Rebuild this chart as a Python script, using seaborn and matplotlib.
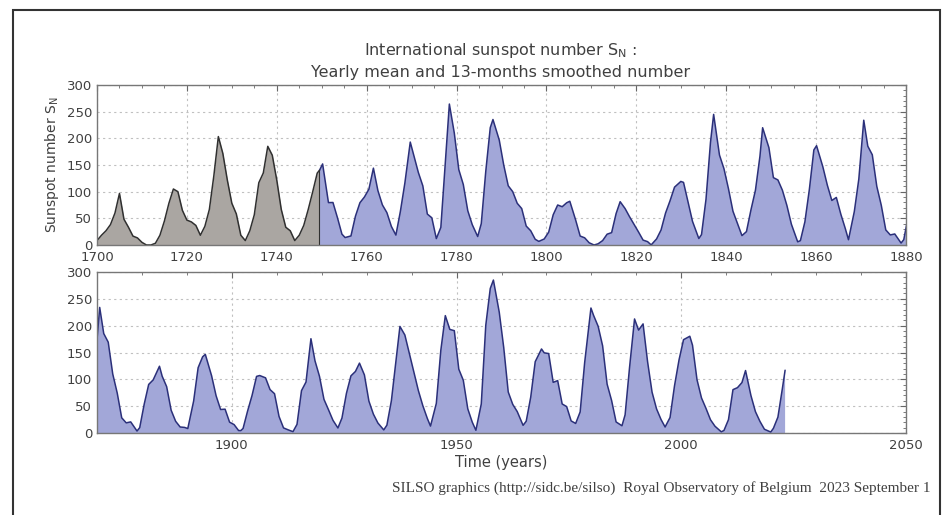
import numpy as np
import pandas as pd
import matplotlib
matplotlib.use("Agg")
import matplotlib.pyplot as plt
from matplotlib.ticker import MultipleLocator
from matplotlib.patches import Rectangle
import seaborn as sns

# yearly mean sunspot number, 1700-1749 (grey part)
yearly_early = [8.3, 18.3, 26.7, 38.3, 60.0, 96.7, 48.3, 33.3, 16.7, 13.3,
                5.0, 0.0, 0.0, 3.3, 18.3, 45.0, 78.3, 105.0, 100.0, 65.0,
                46.7, 43.3, 36.7, 18.3, 35.0, 66.7, 130.0, 203.3, 171.7, 121.7,
                78.3, 58.3, 18.3, 8.3, 26.7, 56.7, 116.7, 135.0, 185.0, 168.3,
                121.7, 66.7, 33.3, 26.7, 8.3, 18.3, 36.7, 66.7, 100.0, 134.8]

# mean values 1750-2022, placed at mid-year (blue part)
yearly_late = [139.0, 79.5, 79.7, 51.2, 20.3, 16.0, 17.0, 54.0, 79.3, 90.0,
               104.8, 143.2, 102.0, 75.2, 60.7, 34.8, 19.0, 63.0, 116.3, 176.8,
               168.0, 136.0, 110.8, 58.0, 51.0, 11.7, 33.0, 154.2, 257.3, 209.8,
               141.3, 113.5, 64.2, 38.0, 17.0, 40.2, 138.2, 220.0, 218.2, 196.8,
               149.8, 111.0, 100.0, 78.2, 68.3, 35.5, 26.7, 10.7, 6.8, 11.3,
               24.2, 56.7, 75.0, 71.8, 79.2, 70.3, 46.8, 16.8, 13.5, 4.2,
               0.0, 2.3, 8.3, 20.3, 23.2, 59.0, 76.3, 68.3, 52.9, 38.5,
               24.2, 9.2, 6.3, 2.2, 11.4, 28.2, 59.9, 83.0, 108.5, 115.2,
               117.4, 80.8, 44.3, 13.4, 19.5, 85.8, 192.7, 227.3, 168.7, 143.0,
               105.5, 63.3, 40.3, 18.1, 25.1, 65.8, 102.7, 166.3, 208.3, 182.5,
               126.3, 122.0, 102.7, 74.1, 39.0, 12.7, 8.2, 43.4, 104.4, 178.3,
               182.2, 146.6, 112.1, 83.5, 89.2, 57.8, 30.7, 13.9, 62.8, 123.6,
               232.0, 185.3, 169.2, 110.1, 74.5, 28.3, 18.9, 20.7, 5.7, 10.0,
               53.7, 90.5, 99.0, 106.1, 105.8, 86.3, 42.4, 21.8, 11.2, 10.4,
               11.8, 59.5, 121.7, 142.0, 130.0, 106.6, 69.4, 43.8, 44.4, 20.2,
               15.7, 4.6, 8.5, 40.8, 70.1, 105.5, 90.1, 102.8, 80.9, 73.2,
               30.9, 9.5, 6.0, 2.4, 16.1, 79.0, 95.0, 173.6, 134.6, 105.7,
               62.7, 43.5, 23.7, 9.7, 27.9, 74.0, 106.5, 114.7, 129.7, 108.2,
               59.4, 35.1, 18.6, 9.2, 14.6, 60.2, 132.8, 190.6, 182.6, 148.0,
               113.0, 79.2, 50.8, 27.1, 16.1, 55.3, 154.3, 214.7, 193.0, 190.7,
               118.9, 98.3, 45.0, 20.1, 6.6, 54.2, 200.7, 269.3, 261.7, 225.1,
               159.0, 76.4, 53.4, 39.9, 15.0, 22.0, 66.8, 132.9, 150.0, 149.4,
               148.0, 94.4, 97.6, 54.1, 49.2, 22.5, 18.4, 39.3, 131.0, 220.1,
               218.9, 198.9, 162.4, 91.0, 60.5, 20.6, 14.8, 33.9, 123.0, 211.1,
               191.8, 203.3, 133.0, 76.1, 44.9, 25.1, 11.6, 28.9, 88.3, 136.3,
               173.9, 170.4, 163.6, 99.3, 65.3, 45.8, 24.7, 12.6, 4.2, 4.8,
               24.9, 80.8, 84.5, 94.0, 113.3, 69.8, 39.8, 21.7, 7.0, 3.6,
               8.8, 29.6, 83.2]

# smoothed cycle maxima / minima (date, value) and the two end points
ext_dates = [1749.5, 1750.2, 1755.2, 1761.5, 1766.5, 1769.7, 1775.5, 1778.4,
             1784.7, 1788.1, 1798.3, 1805.2, 1810.6, 1816.4, 1823.3, 1829.9,
             1833.9, 1837.2, 1843.5, 1848.1, 1855.9, 1860.1, 1867.2, 1870.6,
             1878.9, 1883.9, 1890.2, 1894.1, 1902.0, 1906.2, 1913.6, 1917.6,
             1923.6, 1928.4, 1933.8, 1937.4, 1944.2, 1947.5, 1954.3, 1958.2,
             1964.8, 1968.9, 1976.5, 1979.9, 1986.8, 1989.6, 1996.4, 2001.9,
             2008.9, 2014.3, 2019.9, 2023.1]
ext_values = [140.0, 152.0, 14.0, 144.1, 18.6, 193.0, 12.0, 264.3,
              15.9, 235.3, 6.8, 82.0, 0.0, 81.2, 0.2, 119.2,
              12.2, 244.9, 17.6, 219.9, 6.0, 186.2, 9.9, 234.0,
              3.7, 124.4, 8.3, 146.5, 4.5, 107.1, 2.5, 175.7,
              9.4, 130.2, 5.8, 198.6, 12.9, 218.7, 5.1, 285.0,
              14.3, 156.6, 17.8, 232.9, 13.5, 212.5, 11.2, 180.3,
              2.2, 116.4, 1.8, 117.0]

early_years = np.arange(1700, 1750)
late_years = np.arange(1750, 2023) + 0.5

# merge: keep yearly points that are not right next to an extremum
ext = pd.DataFrame({"t": ext_dates, "v": ext_values})
late = pd.DataFrame({"t": late_years, "v": yearly_late})
near = late.t.apply(lambda t: np.min(np.abs(ext.t.values - t)) < 0.5)
blue = pd.concat([late[~near], ext]).sort_values("t").reset_index(drop=True)

grey = pd.DataFrame({"t": early_years, "v": yearly_early})
grey = pd.concat([grey, blue.iloc[[0]]]).reset_index(drop=True)

sns.set_style("white")
plt.rcParams["font.family"] = ["DejaVu Sans"]

fill_blue = "#a2a7d8"
edge_blue = "#2b307a"
fill_grey = "#aaa6a2"
edge_grey = "#303030"
txt = "#404040"

fig = plt.figure(figsize=(9.46, 5.15), dpi=100)
ax1 = fig.add_axes([97/946, 1-245/515, 809/946, 160/515])
ax2 = fig.add_axes([97/946, 1-433/515, 809/946, 161/515])

for ax, lim, maj, mnr in [(ax1, (1700, 1880), 20, 5), (ax2, (1870, 2050), 50, 10)]:
    ax.fill_between(blue.t, 0, blue.v, color=fill_blue, lw=0)
    sns.lineplot(x=blue.t, y=blue.v, ax=ax, color=edge_blue, lw=1.1,
                 sort=False, estimator=None)
    if ax is ax1:
        ax.fill_between(grey.t, 0, grey.v, color=fill_grey, lw=0)
        sns.lineplot(x=grey.t, y=grey.v, ax=ax, color=edge_grey, lw=1.1,
                     sort=False, estimator=None)
        ax.plot([grey.t.iloc[-1]] * 2, [0, grey.v.iloc[-1]], color=edge_grey, lw=0.8)
    ax.set_xlim(*lim)
    ax.set_ylim(0, 300)
    ax.xaxis.set_major_locator(MultipleLocator(maj))
    ax.xaxis.set_minor_locator(MultipleLocator(mnr))
    ax.yaxis.set_major_locator(MultipleLocator(50))
    ax.yaxis.set_minor_locator(MultipleLocator(10))
    ax.tick_params(which="both", direction="in", top=True, right=True,
                   colors="#666666", labelcolor=txt, labelsize=9.5)
    ax.tick_params(which="major", length=4)
    ax.tick_params(which="minor", length=2)
    ax.tick_params(axis="x", pad=4.5)
    ax.grid(True, which="major", color="#c0c0c0", ls=(0, (2, 3)), lw=0.8)
    for s in ax.spines.values():
        s.set_color("#777777")
        s.set_linewidth(1.0)
    ax.set_xlabel("")
    ax.set_ylabel("")

ax1.set_ylabel(r"Sunspot number $\mathrm{S_N}$", color=txt, fontsize=10, labelpad=4)
ax2.set_xlabel("Time (years)", color=txt, fontsize=10.5, labelpad=2)

fig.text(501/946, 1-51/515, r"International sunspot number $\mathrm{S_N}$ :",
         ha="center", va="center", fontsize=11.5, color=txt)
fig.text(501/946, 1-72/515, "Yearly mean and 13-months smoothed number",
         ha="center", va="center", fontsize=11.5, color=txt)
fig.text(930/946, 1-488/515,
         "SILSO graphics (http://sidc.be/silso)  Royal Observatory of Belgium  2023 September 1",
         ha="right", va="center", fontsize=11, color=txt, family="Liberation Serif")

fig.add_artist(Rectangle((13/946, -0.1), (940-13)/946, 1.1 - 10/515,
                         transform=fig.transFigure, fill=False, ec="#333333", lw=1.5))

fig.savefig("out.png", dpi=100)
